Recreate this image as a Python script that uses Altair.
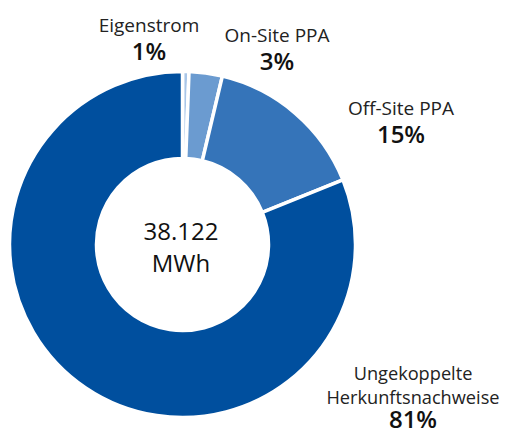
import altair as alt
import pandas as pd

# Data (MWh)
categories = ["Eigenstrom", "On-Site PPA", "Off-Site PPA", "Ungekoppelte Herkunftsnachweise"]
values = [229, 1182, 5795, 30916]
colors = ["#a9c6e8", "#6b9bd0", "#3574b9", "#004f9e"]
label_lines = [["Eigenstrom"], ["On-Site PPA"], ["Off-Site PPA"], ["Ungekoppelte", "Herkunftsnachweise"]]
total_label = ["38.122", "MWh"]

total = sum(values)
pct = [f"{round(v / total * 100)}%" for v in values]

df = pd.DataFrame({"category": categories, "value": values, "order": list(range(len(values)))})

W, H = 493, 422
CX, CY = 174.5, 236.5

donut = alt.Chart(df).mark_arc(
    innerRadius=86, outerRadius=173, stroke="white", strokeWidth=3.5
).encode(
    theta=alt.Theta("value:Q", stack=True),
    order=alt.Order("order:Q"),
    color=alt.Color("category:N", scale=alt.Scale(domain=categories, range=colors), legend=None),
    x=alt.value(CX),
    y=alt.value(CY),
)

FONT = "Open Sans"
# label layout (chart coords): x center, baseline of each text line, baseline of percentage, font size
layout = {
    "Eigenstrom": (141, [24], 52, 19),
    "On-Site PPA": (269, [34], 62, 19),
    "Off-Site PPA": (393, [107], 135, 19),
    "Ungekoppelte Herkunftsnachweise": (405, [372, 396], 420, 18.2),
}
layers = [donut]
for cat, lines, p in zip(categories, label_lines, pct):
    ax, ys, py, fs = layout[cat]
    for ln, y in zip(lines, ys):
        layers.append(
            alt.Chart(pd.DataFrame({"t": [ln]})).mark_text(
                font=FONT, fontSize=fs, color="#222222", baseline="alphabetic", align="center"
            ).encode(text="t:N", x=alt.value(ax), y=alt.value(y))
        )
    layers.append(
        alt.Chart(pd.DataFrame({"t": [p]})).mark_text(
            font=FONT, fontSize=24, fontWeight=600, color="#111111", baseline="alphabetic", align="center"
        ).encode(text="t:N", x=alt.value(ax), y=alt.value(py))
    )

for i, ln in enumerate(total_label):
    layers.append(
        alt.Chart(pd.DataFrame({"t": [ln]})).mark_text(
            font=FONT, fontSize=24, color="#111111", baseline="alphabetic", align="center"
        ).encode(text="t:N", x=alt.value(173), y=alt.value(232 + i * 32))
    )

chart = alt.layer(*layers).properties(
    width=W, height=H, autosize=alt.AutoSizeParams(type="none"), padding=0
).configure_view(stroke=None)

chart.save("out.html", embed_options={"renderer": "svg", "actions": False})
